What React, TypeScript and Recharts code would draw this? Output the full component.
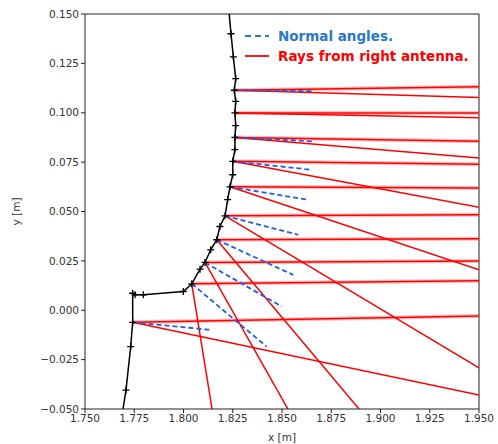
import React from 'react';
import { ComposedChart, Line, XAxis, YAxis, ReferenceLine } from 'recharts';

// Surface profile (black line with + markers)
const surfaceX = [1.7693, 1.7708, 1.7732, 1.7742, 1.7742, 1.7754, 1.7796, 1.7999, 1.8042, 1.8084, 1.8109, 1.8138, 1.8169, 1.8185, 1.8211, 1.8224, 1.8236, 1.825, 1.825, 1.8261, 1.8261, 1.8265, 1.8261, 1.8265, 1.8258, 1.8265, 1.8253, 1.8241, 1.8232];
const surfaceY = [-0.05, -0.0404, -0.0184, -0.0061, 0.0086, 0.0078, 0.0078, 0.0095, 0.0134, 0.0208, 0.0242, 0.0306, 0.0357, 0.0424, 0.0478, 0.056, 0.0625, 0.0686, 0.0754, 0.0813, 0.0875, 0.0935, 0.0999, 0.1058, 0.1114, 0.1173, 0.1283, 0.14, 0.15];

// Ray hit points on the surface
const hitX = [1.8258, 1.8261, 1.8261, 1.825, 1.8236, 1.8211, 1.8169, 1.8109, 1.8042, 1.7742];
const hitY = [0.1114, 0.0999, 0.0875, 0.0754, 0.0625, 0.0478, 0.0357, 0.0242, 0.0134, -0.0061];

// Incident (near-horizontal) ray ends
const incidentEndX = [1.95, 1.95, 1.95, 1.95, 1.95, 1.95, 1.95, 1.95, 1.95, 1.95];
const incidentEndY = [0.1132, 0.0999, 0.0856, 0.0739, 0.0619, 0.0483, 0.0362, 0.025, 0.0149, -0.0029];

// Reflected ray ends
const reflectEndX = [1.95, 1.95, 1.95, 1.95, 1.95, 1.95, 1.8891, 1.853, 1.8145, 1.95];
const reflectEndY = [0.1077, 0.0975, 0.0771, 0.0521, 0.0205, -0.0292, -0.05, -0.05, -0.05, -0.0429];

// Normal direction ends (null = none drawn)
const normalEndX = [1.8657, null, 1.8657, 1.8642, 1.8627, 1.8583, 1.8557, 1.8498, 1.8422, 1.8143];
const normalEndY = [0.1109, null, 0.0855, 0.0712, 0.056, 0.0382, 0.0179, 0.0019, -0.0184, -0.01];

const xTicks = [1.75, 1.775, 1.8, 1.825, 1.85, 1.875, 1.9, 1.925, 1.95];
const yTicks = [-0.05, -0.025, 0, 0.025, 0.05, 0.075, 0.1, 0.125, 0.15];

const RED = '#ff0000';
const BLUE = '#1f5fe6';
const LEGEND_BLUE = '#2a78c8';

const surfaceData = surfaceX.map((x, i) => ({ x, y: surfaceY[i] }));
const seg = (x1: number, y1: number, x2: number, y2: number) => [{ x: x1, y: y1 }, { x: x2, y: y2 }];

const fmt = (v: number) => v.toFixed(3).replace('-', '\u2212');

const tickStyle = { fontSize: 10.5, fill: '#333', fontFamily: 'DejaVu Sans' };

const PlusDot = (props: any) => {
  const { cx, cy, index } = props;
  if (index === 0 || index === surfaceX.length - 1 || cx == null) return <g key={`d${index}`} />;
  return (
    <path
      key={`d${index}`}
      d={`M${cx - 3.5},${cy}h7M${cx},${cy - 3.5}v7`}
      stroke="#000"
      strokeWidth={1.3}
      fill="none"
    />
  );
};

export default function App() {
  return (
    <div style={{ position: 'absolute', left: 0, top: 0, width: 498, height: 444, background: '#fff' }}>
      <ComposedChart width={498} height={444} margin={{ top: 14, right: 19, bottom: 0, left: 0 }}>
        <XAxis
          dataKey="x"
          type="number"
          domain={[1.75, 1.95]}
          ticks={xTicks}
          tickFormatter={fmt}
          allowDataOverflow
          height={35}
          tickSize={4}
          stroke="#222"
          tick={tickStyle}
          label={{ value: 'x [m]', position: 'insideBottom', offset: 3, style: { fontSize: 10.5, fill: '#333', fontFamily: 'DejaVu Sans' } }}
        />
        <YAxis
          dataKey="y"
          type="number"
          domain={[-0.05, 0.15]}
          ticks={yTicks}
          tickFormatter={fmt}
          allowDataOverflow
          width={85}
          tickSize={4}
          stroke="#222"
          tick={tickStyle}
          label={{ value: 'y [m]', angle: -90, position: 'insideLeft', offset: 16, style: { fontSize: 10.5, fill: '#333', fontFamily: 'DejaVu Sans', textAnchor: 'middle' } }}
        />
        <ReferenceLine y={0.15} stroke="#222" strokeWidth={1} />
        <ReferenceLine x={1.95} stroke="#222" strokeWidth={1} />
        {hitX.map((hx, i) => (
          <Line
            key={`ih${i}`}
            data={seg(hx, hitY[i], incidentEndX[i], incidentEndY[i])}
            dataKey="y"
            stroke={RED}
            strokeOpacity={0.25}
            strokeWidth={4}
            dot={false}
            activeDot={false}
            isAnimationActive={false}
          />
        ))}
        {hitX.map((hx, i) => (
          <Line
            key={`i${i}`}
            data={seg(hx, hitY[i], incidentEndX[i], incidentEndY[i])}
            dataKey="y"
            stroke={RED}
            strokeWidth={1.5}
            dot={false}
            activeDot={false}
            isAnimationActive={false}
          />
        ))}
        {hitX.map((hx, i) => (
          <Line
            key={`r${i}`}
            data={seg(hx, hitY[i], reflectEndX[i], reflectEndY[i])}
            dataKey="y"
            stroke={RED}
            strokeWidth={1.5}
            dot={false}
            activeDot={false}
            isAnimationActive={false}
          />
        ))}
        {hitX.map((hx, i) =>
          normalEndX[i] == null ? null : (
            <Line
              key={`n${i}`}
              data={seg(hx, hitY[i], normalEndX[i] as number, normalEndY[i] as number)}
              dataKey="y"
              stroke={BLUE}
              strokeWidth={1.8}
              strokeDasharray="5 3"
              dot={false}
              activeDot={false}
              isAnimationActive={false}
            />
          )
        )}
        <Line
          data={surfaceData}
          dataKey="y"
          stroke="#000"
          strokeWidth={1.5}
          dot={PlusDot}
          activeDot={false}
          isAnimationActive={false}
        />
      </ComposedChart>
      <div style={{ position: 'absolute', left: 244, top: 26, fontFamily: 'DejaVu Sans', fontWeight: 'bold', fontSize: 13.5 }}>
        <div style={{ display: 'flex', alignItems: 'center', height: 20 }}>
          <svg width={26} height={10}>
            <line x1={1} y1={5} x2={25} y2={5} stroke={LEGEND_BLUE} strokeWidth={1.8} strokeDasharray="6 4" />
          </svg>
          <span style={{ color: LEGEND_BLUE, marginLeft: 8 }}>Normal angles.</span>
        </div>
        <div style={{ display: 'flex', alignItems: 'center', height: 20 }}>
          <svg width={26} height={10}>
            <line x1={1} y1={5} x2={25} y2={5} stroke={RED} strokeWidth={1.8} />
          </svg>
          <span style={{ color: RED, marginLeft: 8 }}>Rays from right antenna.</span>
        </div>
      </div>
    </div>
  );
}
